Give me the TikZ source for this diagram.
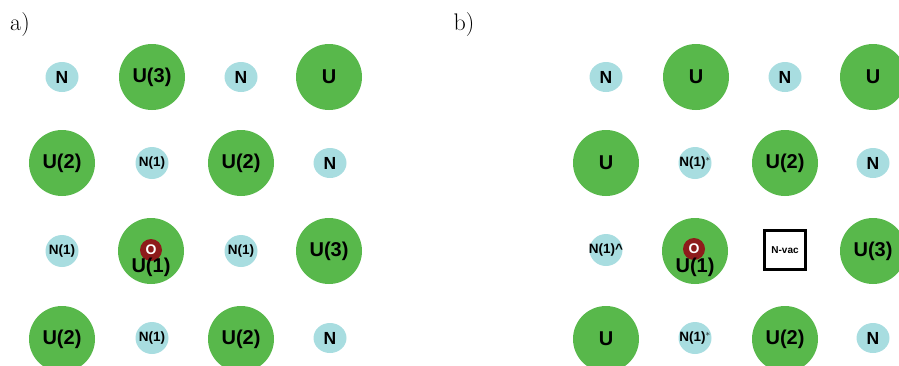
\documentclass[tikz,border=0pt]{standalone}
\usepackage{fontspec}
\usetikzlibrary{shapes.geometric}
\newfontfamily\labfont{Liberation Sans}
\definecolor{ugreen}{HTML}{58B84B}
\definecolor{nblue}{HTML}{A8DDE0}
\definecolor{oxred}{HTML}{8E1B1B}
% zero-width box so the label never widens its disc
\newcommand{\fixw}[1]{\makebox[0pt]{#1}}
\begin{document}
\begin{tikzpicture}[x=1pt,y=-1pt,
  ubig/.style={circle, fill=ugreen, minimum size=66pt, inner sep=0pt,
    font=\labfont\bfseries\fontsize{20}{20}\selectfont},
  nsmall/.style={ellipse, fill=nblue, minimum width=33pt, minimum height=30pt, inner sep=0pt,
    font=\labfont\bfseries\fontsize{17.5}{17.5}\selectfont},
  nsub/.style={nsmall, minimum height=32pt, font=\labfont\bfseries\fontsize{13.5}{13.5}\selectfont},
  oxy/.style={circle, fill=oxred, minimum size=22pt, inner sep=0pt, text=white,
    font=\labfont\bfseries\fontsize{14}{14}\selectfont},
  ulow/.style={font=\labfont\bfseries\fontsize{20}{20}\selectfont},
  vacbox/.style={rectangle, draw=black, fill=white, line width=2.6pt, minimum width=41pt,
    minimum height=39pt, inner sep=0pt, font=\labfont\bfseries\fontsize{10}{10}\selectfont},
  panel/.style={font=\fontsize{24}{24}\selectfont}]
\useasboundingbox (0,0) rectangle (899,365);
\clip (0,0) rectangle (899,365);

% ---------- panel a ----------
\node[panel] (la) at (20,25) {a)};
% row 1
\node[nsmall] (a11) at (62,77) {N};
\node[ubig]   (a12) at (152,77) {U(3)};
\node[nsmall] (a13) at (241,77) {N};
\node[ubig]   (a14) at (329,77) {U};
% row 2
\node[ubig]   (a21) at (62,163) {U(2)};
\node[nsub]   (a22) at (152,163) {\fixw{N(1)}};
\node[ubig]   (a23) at (241,163) {U(2)};
\node[nsmall] (a24) at (330,163) {N};
% row 3
\node[nsub]   (a31) at (62,251) {\fixw{N(1)}};
\node[ubig]   (a32) at (151,251) {};
\node[oxy]    (a32o) at (151,250) {O};
\node[ulow]   (a32t) at (151,267) {U(1)};
\node[nsub]   (a33) at (241,251) {\fixw{N(1)}};
\node[ubig]   (a34) at (329,251) {U(3)};
% row 4
\node[ubig]   (a41) at (62,339) {U(2)};
\node[nsub]   (a42) at (152,338) {\fixw{N(1)}};
\node[ubig]   (a43) at (241,339) {U(2)};
\node[nsmall] (a44) at (330,338) {N};

% ---------- panel b ----------
\node[panel] (lb) at (464,25) {b)};
% row 1
\node[nsmall] (b11) at (606,77) {N};
\node[ubig]   (b12) at (696,77) {U};
\node[nsmall] (b13) at (785,77) {N};
\node[ubig]   (b14) at (873,77) {U};
% row 2
\node[ubig]   (b21) at (606,163) {U};
\node[nsub]   (b22) at (695,163) {\fixw{N(1)$^{*}$}};
\node[ubig]   (b23) at (785,163) {U(2)};
\node[nsmall] (b24) at (873,163) {N};
% row 3
\node[nsub]   (b31) at (606,250) {\fixw{N(1)\textasciicircum}};
\node[ubig]   (b32) at (695,251) {};
\node[oxy]    (b32o) at (694,249) {O};
\node[ulow]   (b32t) at (695,267) {U(1)};
\node[vacbox] (b33) at (785,250) {N-vac};
\node[ubig]   (b34) at (873,251) {U(3)};
% row 4
\node[ubig]   (b41) at (606,339) {U};
\node[nsub]   (b42) at (695,338) {\fixw{N(1)$^{*}$}};
\node[ubig]   (b43) at (785,339) {U(2)};
\node[nsmall] (b44) at (873,338) {N};
\end{tikzpicture}
\end{document}
